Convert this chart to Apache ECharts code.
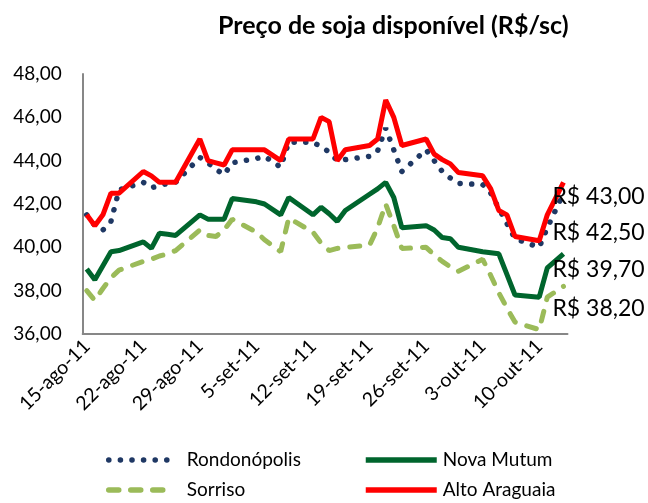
<!DOCTYPE html>
<html>
<head>
<meta charset="utf-8">
<script src="https://cdn.jsdelivr.net/npm/echarts@6/dist/echarts.min.js"></script>
<style>
html,body{margin:0;padding:0;background:#fff;}
#chart{width:648px;height:503px;}
</style>
</head>
<body>
<div id="chart"></div>
<script>
const titleText = 'Preço de soja disponível (R$/sc)';
const monthAbbr = ['jan','fev','mar','abr','mai','jun','jul','ago','set','out','nov','dez'];
const yTicks = [36, 38, 40, 42, 44, 46, 48];

const tradingDays = [
  '2011-08-15','2011-08-16','2011-08-17','2011-08-18','2011-08-19',
  '2011-08-22','2011-08-23','2011-08-24','2011-08-25','2011-08-26',
  '2011-08-29','2011-08-30','2011-08-31','2011-09-01','2011-09-02',
  '2011-09-05','2011-09-06','2011-09-08','2011-09-09',
  '2011-09-12','2011-09-13','2011-09-14','2011-09-15','2011-09-16',
  '2011-09-19','2011-09-20','2011-09-21','2011-09-22','2011-09-23',
  '2011-09-26','2011-09-27','2011-09-28','2011-09-29','2011-09-30',
  '2011-10-03','2011-10-04','2011-10-05','2011-10-06','2011-10-07',
  '2011-10-10','2011-10-11','2011-10-13'
];

const rondonopolis = [
  41.5, 41.0, 40.8, 41.2, 42.65,
  43.0, 42.75, 42.85, 42.95, 43.0,
  44.15, 43.9, 43.6, 43.35, 43.9,
  44.1, 44.2, 43.7, 44.85,
  44.85, 44.65, 44.4, 44.0, 44.05,
  44.2, 44.45, 45.5, 44.5, 43.5,
  44.5, 44.0, 43.5, 43.2, 42.95,
  42.9, 42.5, 41.8, 41.1, 40.4,
  40.0, 40.9, 42.5
];
const novaMutum = [
  39.0, 38.5, 39.15, 39.8, 39.85,
  40.25, 39.95, 40.65, 40.6, 40.55,
  41.5, 41.3, 41.3, 41.3, 42.25,
  42.1, 42.0, 41.5, 42.3,
  41.5, 41.85, 41.55, 41.2, 41.7,
  42.45, 42.7, 43.0, 42.3, 40.9,
  41.0, 40.8, 40.45, 40.4, 40.0,
  39.8, 39.75, 39.7, 38.75, 37.8,
  37.7, 39.05, 39.7
];
const sorriso = [
  38.0, 37.55, 38.1, 38.6, 38.95,
  39.35, 39.45, 39.6, 39.7, 39.85,
  40.8, 40.55, 40.5, 40.8, 41.3,
  40.7, 40.35, 39.8, 41.35,
  40.7, 40.2, 39.85, 39.95, 40.0,
  40.1, 40.9, 42.0, 41.0, 39.95,
  40.0, 39.65, 39.35, 39.1, 38.9,
  39.45, 38.7, 37.9, 37.2, 36.55,
  36.2, 37.7, 38.2
];
const altoAraguaia = [
  41.5, 41.0, 41.5, 42.5, 42.5,
  43.5, 43.3, 43.0, 43.0, 43.0,
  45.0, 44.0, 43.9, 43.8, 44.5,
  44.5, 44.5, 44.0, 45.0,
  45.0, 46.0, 45.8, 44.0, 44.5,
  44.7, 45.0, 46.8, 46.0, 44.7,
  45.0, 44.3, 44.05, 43.85, 43.45,
  43.3, 42.7, 41.7, 41.5, 40.5,
  40.3, 41.5, 43.0
];

// build calendar-day categories (date axis behaviour)
function parseDay(s){ const p = s.split('-').map(Number); return Date.UTC(p[0], p[1]-1, p[2]); }
function fmtDay(t){ const d = new Date(t); return d.getUTCDate() + '-' + monthAbbr[d.getUTCMonth()] + '-' + String(d.getUTCFullYear()).slice(2); }
const DAY = 86400000;
const t0 = parseDay(tradingDays[0]);
const t1 = parseDay(tradingDays[tradingDays.length-1]);
const categories = [];
for (let t = t0; t <= t1; t += DAY) categories.push(fmtDay(t));
function toCalendar(values){
  const out = categories.map(() => null);
  tradingDays.forEach((s, i) => { out[Math.round((parseDay(s) - t0)/DAY)] = values[i]; });
  return out;
}
const money = v => 'R$ ' + v.toFixed(2).replace('.', ',');
const FONT = 'Lato';

function endLbl(dy){
  return { show: true, formatter: p => money(p.value), distance: 0, offset: [-11, dy],
    align: 'left', verticalAlign: 'middle', fontFamily: FONT, fontSize: 23, color: '#000' };
}
const legendCommon = {
  orient: 'vertical', top: 450, padding: 0, itemHeight: 14, itemGap: 10,
  itemStyle: { color: 'rgba(0,0,0,0)', borderWidth: 0, opacity: 0 },
  lineStyle: { width: 5.5 }
};

const chart = echarts.init(document.getElementById('chart'), null, {renderer: 'canvas'});
chart.setOption({
  animation: false,
  backgroundColor: '#fff',
  title: {
    text: titleText, left: 213, top: 8,
    textStyle: { fontFamily: FONT, fontWeight: 'bold', fontSize: 25, color: '#000' }
  },
  grid: { left: 82.7, right: 80.5, top: 74, bottom: 169, containLabel: false, outerBoundsMode: 'none' },
  xAxis: {
    type: 'category', data: categories, boundaryGap: true,
    axisLine: { lineStyle: { color: '#878787', width: 2 } },
    axisTick: { show: false },
    axisLabel: { interval: 6, rotate: 45, margin: 9, fontFamily: FONT, fontSize: 19.5, color: '#000' },
    splitLine: { show: false }
  },
  yAxis: {
    type: 'value', min: yTicks[0], max: yTicks[yTicks.length-1], interval: 2,
    axisLine: { show: true, lineStyle: { color: '#878787', width: 2 } },
    axisTick: { show: false },
    splitLine: { show: false },
    axisLabel: { margin: 21, fontFamily: FONT, fontSize: 19, color: '#000',
      formatter: v => v.toFixed(2).replace('.', ',') }
  },
  legend: [
    Object.assign({}, legendCommon, { data: ['Rondonópolis', 'Sorriso'], left: 106, itemWidth: 65,
      textStyle: { fontFamily: FONT, fontSize: 19, color: '#000', lineHeight: 20, padding: [0,0,0,8] } }),
    Object.assign({}, legendCommon, { data: ['Nova Mutum', 'Alto Araguaia'], left: 363, itemWidth: 71,
      textStyle: { fontFamily: FONT, fontSize: 19, color: '#000', lineHeight: 20, padding: [0,0,0,1] } })
  ],
  series: [
    { name: 'Rondonópolis', type: 'line', data: toCalendar(rondonopolis), connectNulls: true,
      symbol: 'none', color: '#1F3864',
      lineStyle: { color: '#1F3864', width: 5.5, type: [0.1, 11.5], cap: 'round' },
      endLabel: endLbl(39) },
    { name: 'Nova Mutum', type: 'line', data: toCalendar(novaMutum), connectNulls: true,
      symbol: 'none', color: '#00652D',
      lineStyle: { color: '#00652D', width: 5 },
      endLabel: endLbl(16) },
    { name: 'Sorriso', type: 'line', data: toCalendar(sorriso), connectNulls: true,
      symbol: 'none', color: '#9BBB59',
      lineStyle: { color: '#9BBB59', width: 5, type: [10, 12], cap: 'round' },
      endLabel: endLbl(22) },
    { name: 'Alto Araguaia', type: 'line', data: toCalendar(altoAraguaia), connectNulls: true,
      symbol: 'none', color: '#FF0000',
      lineStyle: { color: '#FF0000', width: 5 },
      endLabel: endLbl(14) }
  ]
});
</script>
</body>
</html>
